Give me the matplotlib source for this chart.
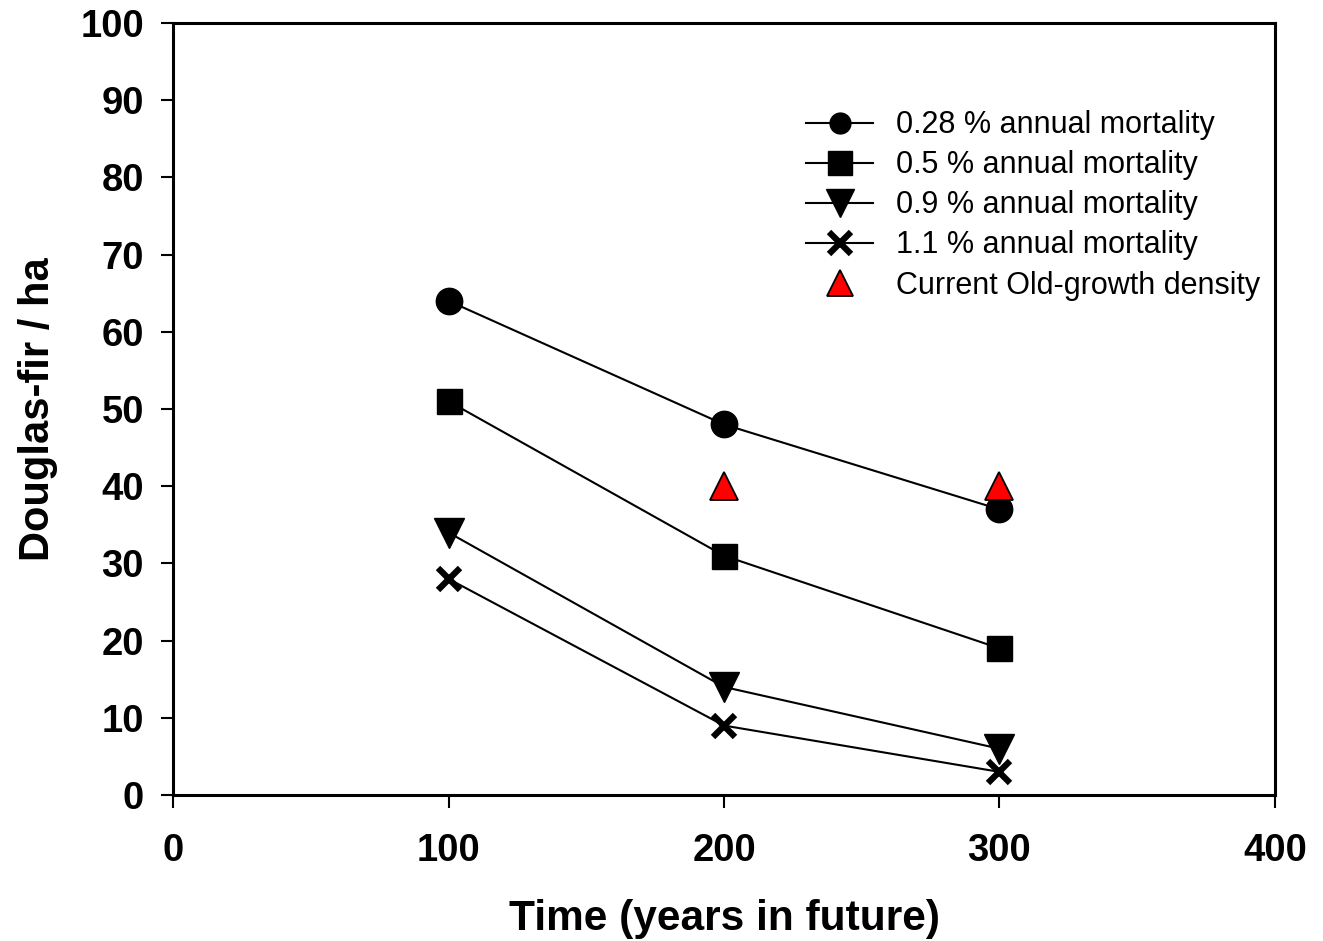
import matplotlib
matplotlib.use("Agg")
import matplotlib.pyplot as plt

plt.rcParams['font.family'] = ['Liberation Sans', 'DejaVu Sans']

years = [100, 200, 300]
mort_028 = [64, 48, 37]
mort_05 = [51, 31, 19]
mort_09 = [34, 14, 6]
mort_11 = [28, 9, 3]
oldgrowth_years = [200, 300]
oldgrowth_density = [40, 40]

labels = ["0.28 % annual mortality", "0.5 % annual mortality",
          "0.9 % annual mortality", "1.1 % annual mortality",
          "Current Old-growth density"]

fig = plt.figure(figsize=(13.23, 9.41), dpi=100)
ax = fig.add_axes([0.1308, 0.1551, 0.8329, 0.8205])

lw = 1.5
ax.plot(years, mort_028, color='black', lw=lw, marker='o', ms=19,
        mfc='black', mec='black', label=labels[0], zorder=3)
ax.plot(years, mort_05, color='black', lw=lw, marker='s', ms=18,
        mfc='black', mec='black', label=labels[1], zorder=3)
ax.plot(years, mort_09, color='black', lw=lw, marker='v', ms=21,
        mfc='black', mec='black', label=labels[2], zorder=3)
ax.plot(years, mort_11, color='black', lw=lw, marker='x', ms=16,
        mew=4.5, mec='black', label=labels[3], zorder=3)
ax.plot(oldgrowth_years, oldgrowth_density, linestyle='none', marker='^',
        ms=20, mfc='red', mec='black', mew=1.3, label=labels[4], zorder=4)

ax.set_xlim(0, 400)
ax.set_ylim(0, 100)
ax.set_xticks([0, 100, 200, 300, 400])
ax.set_yticks(range(0, 101, 10))

for s in ax.spines.values():
    s.set_linewidth(2.2)
ax.tick_params(axis='both', direction='out', length=9, width=1.5,
               labelsize=27.5)
ax.tick_params(axis='x', pad=18)
ax.tick_params(axis='y', pad=12)
ax.tick_params(top=False, right=False)
for t in ax.get_xticklabels() + ax.get_yticklabels():
    t.set_fontweight('bold')

ax.set_xlabel("Time (years in future)", fontsize=30.5, fontweight='bold', labelpad=22)
ax.set_ylabel("Douglas-fir / ha", fontsize=30, fontweight='bold', labelpad=16)

leg = ax.legend(loc='upper left', bbox_to_anchor=(0.5744, 0.887), frameon=False,
                fontsize=22, markerscale=0.95, handlelength=2.2,
                handletextpad=0.75, labelspacing=0.33, borderaxespad=0,
                borderpad=0)
leg.legend_handles[0].set_markersize(15)

fig.savefig("out.png", dpi=100)
